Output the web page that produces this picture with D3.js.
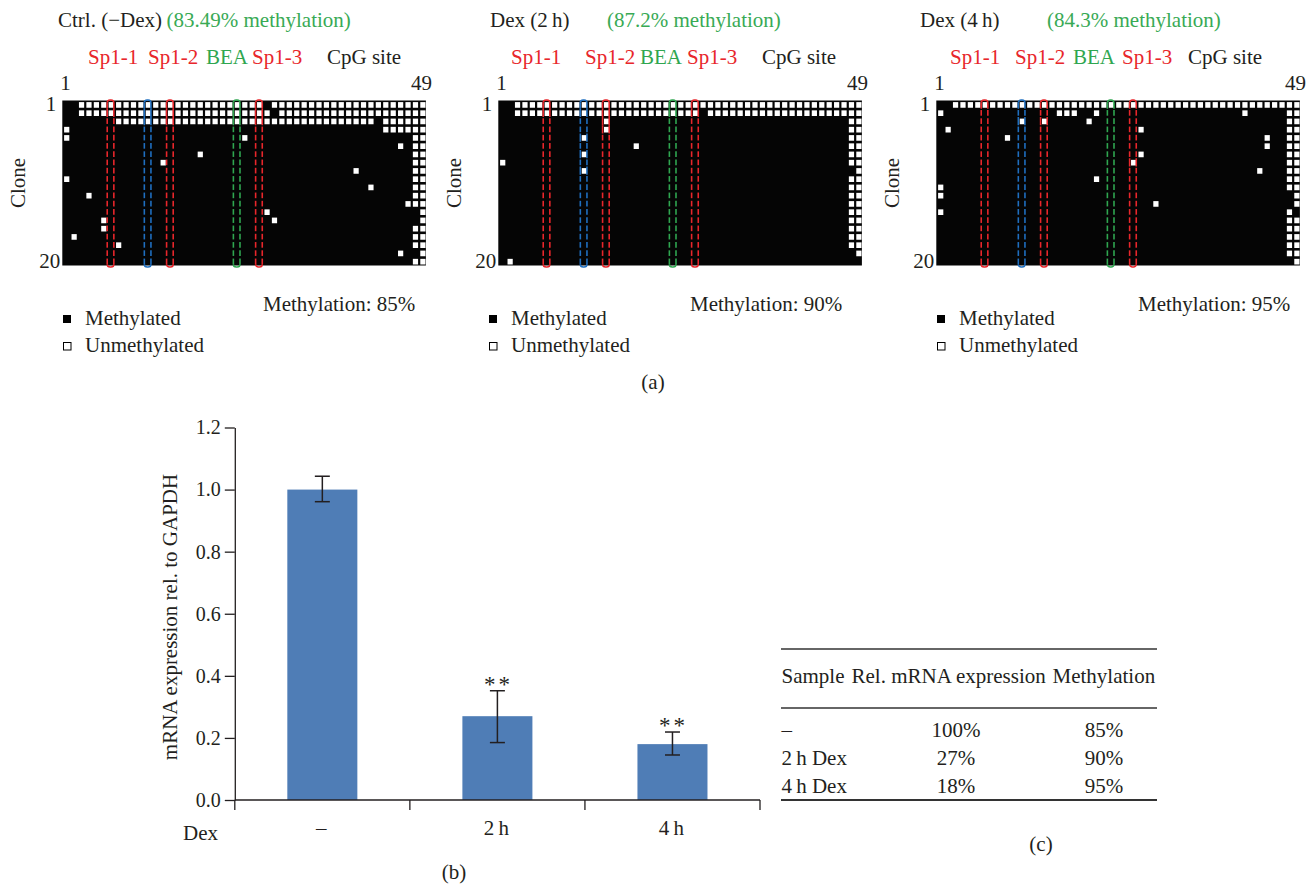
<!DOCTYPE html>
<html><head><meta charset="utf-8">
<script src="https://cdn.jsdelivr.net/npm/d3@7"></script>
<style>
body{margin:0;background:#fff}
svg{display:block}
text{font-family:"Liberation Serif","Times New Roman",serif;fill:#231f20}
</style>
</head><body>
<svg id="c" width="1315" height="886"></svg>
<script>
// ---------------- DATA ----------------
const panelTitles = ["Ctrl. (\u2212Dex)", "Dex (2\u2009h)", "Dex (4\u2009h)"];
const panelNotes = ["(83.49% methylation)", "(87.2% methylation)", "(84.3% methylation)"];
const panelMethylation = ["Methylation: 85%", "Methylation: 90%", "Methylation: 95%"];
const siteLabels = ["Sp1-1", "Sp1-2", "BEA", "Sp1-3", "CpG site"];
const siteKinds = ["sp", "sp", "bea", "sp", "cpg"];
const boxColumns = [6, 11, 14, 23, 26];          // 0-based CpG column index
const boxKinds = ["sp", "other", "sp", "bea", "sp"];
const cpgCount = 49;
const cloneCount = 20;
const legendLabels = ["Methylated", "Unmethylated"];

// unmethylated CpG columns (0-based) per clone row
const unmethCtrl = ["2-26,28-48","2-27,29-48","7-41,43-48","0,43-48","0,24,47,48","45,47,48","18,47,48",
  "13,47,48","39,47,48","0,47,48","41,47,48","3,47,48","46,47,48","27,48","5,28,48","5,47,48",
  "1,47,48","7,47,48","45,48","47,48"];
const unmeth2h = ["2-48","2-26,28-48","14,47,48","14,47,48","11,47,48","18,47,48","11,47,48",
  "0,47,48","11,48","47,48","47,48","47,48","47,48","47,48","47,48","47,48","47,48","47,48","48","1"];
const unmeth4h = ["2-48","0,16,17,18,21,41,47,48","11,14,20,47,48","1,27,47,48","9,44,47,48",
  "44,47,48","27,47,48","26,47,48","43,47,48","21,47,48","0,47,48","0,48","29,48","0,47",
  "47,48","47,48","47,48","47,48","47,48","48"];

const barCategories = ["\u2013", "2\u2009h", "4\u2009h"];
const barValues = [1.00, 0.27, 0.18];
const errLow = [0.961, 0.185, 0.145];
const errHigh = [1.043, 0.352, 0.219];
const sigMarks = ["", "**", "**"];
const yTicks = [0, 0.2, 0.4, 0.6, 0.8, 1.0, 1.2];
const yLabel = "mRNA expression rel. to GAPDH";
const xLabel = "Dex";

const tableHeader = ["Sample", "Rel. mRNA expression", "Methylation"];
const tableSamples = ["\u2013", "2\u2009h Dex", "4\u2009h Dex"];
const tableExpression = ["100%", "27%", "18%"];
const tableMethylation = ["85%", "90%", "95%"];

const panelLetters = ["(a)", "(b)", "(c)"];

// ---------------- LAYOUT ----------------
const C = {red: "#e8262b", blue: "#1f6fc0", green: "#2fa650", textGreen: "#39aa55", bar: "#4f7db6", ink: "#231f20"};
const kindColor = {sp: C.red, other: C.blue, bea: C.green, cpg: C.ink};
const FS = 21;
const svg = d3.select("#c");

function parseRow(s) {
  const out = [];
  s.split(",").forEach(p => {
    const [a, b] = p.split("-").map(Number);
    if (b === undefined) out.push(a); else for (let i = a; i <= b; i++) out.push(i);
  });
  return out;
}

const grids = [unmethCtrl, unmeth2h, unmeth4h];
const gridLeft = [62.3, 498.3, 936.3];
const gridTop = 100.5, gridW = 363.6, gridH = 165;
const titleX = [58, 490, 920], noteX = [166.5, 607, 1047];
const siteX = [[88, 148, 206, 252, 327], [511, 585, 640, 687, 762], [950, 1015, 1073, 1122, 1188]];
const legendX = [67, 493, 941];
const methX = [263, 690, 1138];

grids.forEach((rows, p) => {
  const g = svg.append("g");
  const gl = gridLeft[p];
  const xs = d3.scaleBand().domain(d3.range(cpgCount)).range([gl, gl + gridW]);
  const ys = d3.scaleBand().domain(d3.range(cloneCount)).range([gridTop, gridTop + gridH]);
  const cw = xs.bandwidth(), rh = ys.bandwidth();

  g.append("text").attr("x", titleX[p]).attr("y", 27).attr("font-size", FS).text(panelTitles[p]);
  g.append("text").attr("x", noteX[p]).attr("y", 27).attr("font-size", FS).style("fill", C.textGreen).text(panelNotes[p]);

  siteLabels.forEach((s, i) => {
    g.append("text").attr("x", siteX[p][i]).attr("y", 64).attr("font-size", FS)
      .style("fill", kindColor[siteKinds[i]]).text(s);
  });

  g.append("text").attr("x", gl - 2).attr("y", 90).attr("font-size", FS).text("1");
  g.append("text").attr("x", gl + gridW + 6).attr("y", 90).attr("font-size", FS).attr("text-anchor", "end").text(String(cpgCount));
  g.append("text").attr("x", gl - 6).attr("y", ys(0) + rh / 2 + 6).attr("font-size", FS).attr("text-anchor", "end").text("1");
  g.append("text").attr("x", gl - 2).attr("y", ys(cloneCount - 1) + rh / 2 + 7).attr("font-size", FS).attr("text-anchor", "end").text(String(cloneCount));
  g.append("text").attr("transform", `translate(${gl - 44},${gridTop + gridH / 2}) rotate(-90)`)
    .attr("font-size", FS).attr("text-anchor", "middle").attr("dominant-baseline", "central").text("Clone");

  g.append("rect").attr("x", gl).attr("y", gridTop).attr("width", gridW).attr("height", gridH).attr("fill", "#050505");

  const cells = [];
  rows.forEach((s, r) => parseRow(s).forEach(c => cells.push({r, c})));
  g.selectAll("rect.u").data(cells).enter().append("rect").attr("class", "u")
    .attr("x", d => xs(d.c) + 1.8).attr("y", d => ys(d.r) + 1.6)
    .attr("width", cw - 2.2).attr("height", rh - 2.6).attr("fill", "#fff");

  const unm = rows.map(s => new Set(parseRow(s)));
  boxColumns.forEach((col, i) => {
    const col_ = kindColor[boxKinds[i]];
    const x0 = xs(col) + 0.4, x1 = xs(col) + cw - 0.4;
    const y0 = gridTop - 0.5, y1 = gridTop + gridH + 1.5, r = 2.8;
    const bg = g.append("g").attr("stroke", col_).attr("stroke-width", 1.6).attr("fill", "none");
    bg.append("path").attr("d", `M${x0},${y0 + r}A${r},${r} 0 0 1 ${x0 + r},${y0}L${x1 - r},${y0}A${r},${r} 0 0 1 ${x1},${y0 + r}`);
    bg.append("path").attr("d", `M${x0},${y1 - r}A${r},${r} 0 0 0 ${x0 + r},${y1}L${x1 - r},${y1}A${r},${r} 0 0 0 ${x1},${y1 - r}`);
    d3.range(cloneCount).forEach(rr => {
      const white = unm[rr].has(col);
      let a = ys(rr) + (white ? 0 : 1.3), b = ys(rr) + rh - (white ? 0 : 1.3);
      if (rr === 0) a = y0 + r;
      if (rr === cloneCount - 1) b = y1 - r;
      [x0, x1].forEach(xx => bg.append("line").attr("x1", xx).attr("x2", xx).attr("y1", a).attr("y2", b));
    });
  });

  const lx = legendX[p];
  g.append("rect").attr("x", lx - 4).attr("y", 315).attr("width", 8).attr("height", 8).attr("fill", "#000");
  g.append("rect").attr("x", lx - 3.5).attr("y", 342.5).attr("width", 7.5).attr("height", 7.5).attr("fill", "#fff").attr("stroke", "#000").attr("stroke-width", 1);
  g.append("text").attr("x", lx + 18).attr("y", 325).attr("font-size", FS).text(legendLabels[0]);
  g.append("text").attr("x", lx + 18).attr("y", 352).attr("font-size", FS).text(legendLabels[1]);
  g.append("text").attr("x", methX[p]).attr("y", 311).attr("font-size", FS).text(panelMethylation[p]);
});

svg.append("text").attr("x", 653).attr("y", 389).attr("font-size", FS).attr("text-anchor", "middle").text(panelLetters[0]);

// ---------------- BAR CHART (b) ----------------
const y = d3.scaleLinear().domain([0, 1.2]).range([800, 427.5]);
const x = d3.scaleBand().domain(barCategories).range([234.8, 760]).padding(0);
const bw = x.bandwidth();
const gb = svg.append("g");

const yAxis = gb.append("g").attr("transform", "translate(234.8,0)")
  .call(d3.axisLeft(y).tickValues(yTicks).tickFormat(d3.format(".1f")).tickSize(10).tickSizeOuter(0).tickPadding(4));
yAxis.selectAll("path,line").attr("stroke", C.ink).attr("stroke-width", 1.3);
yAxis.selectAll("text").attr("font-size", 20).attr("font-family", "Liberation Serif").style("fill", C.ink);

gb.selectAll("rect.bar").data(barValues).enter().append("rect").attr("class", "bar")
  .attr("x", (d, i) => x(barCategories[i]) + bw * 0.3).attr("width", bw * 0.4)
  .attr("y", d => y(d)).attr("height", d => y(0) - y(d)).attr("fill", C.bar);

gb.append("line").attr("x1", 234.8).attr("x2", 760).attr("y1", y(0)).attr("y2", y(0)).attr("stroke", C.ink).attr("stroke-width", 1.3);
barCategories.map(c => x(c)).concat([x.range()[1]]).forEach(xx => {
  gb.append("line").attr("x1", xx).attr("x2", xx).attr("y1", y(0)).attr("y2", y(0) + 10).attr("stroke", C.ink).attr("stroke-width", 1.3);
});

barValues.forEach((v, i) => {
  const cx = x(barCategories[i]) + bw / 2;
  const eg = gb.append("g").attr("stroke", C.ink).attr("stroke-width", 1.5);
  eg.append("line").attr("x1", cx).attr("x2", cx).attr("y1", y(errLow[i])).attr("y2", y(errHigh[i]));
  [errLow[i], errHigh[i]].forEach(e => eg.append("line").attr("x1", cx - 7.5).attr("x2", cx + 7.5).attr("y1", y(e)).attr("y2", y(e)));
  if (sigMarks[i]) gb.append("text").attr("x", cx + 1).attr("y", y(errHigh[i]) + 1).attr("font-size", 23)
    .attr("text-anchor", "middle").attr("letter-spacing", 3).text(sigMarks[i]);
  gb.append("text").attr("x", cx - 1).attr("y", 835).attr("font-size", FS).attr("text-anchor", "middle").text(barCategories[i]);
});
gb.append("text").attr("x", 183).attr("y", 840).attr("font-size", FS).text(xLabel);
gb.append("text").attr("transform", "translate(170,617) rotate(-90)").attr("font-size", FS)
  .attr("text-anchor", "middle").attr("dominant-baseline", "central").text(yLabel);
gb.append("text").attr("x", 454).attr("y", 879).attr("font-size", FS).attr("text-anchor", "middle").text(panelLetters[1]);

// ---------------- TABLE (c) ----------------
const gt = svg.append("g");
const tl = 781, tr = 1157;
[[649, 1.3], [708, 1.3], [800, 1.8]].forEach(([yy, w]) =>
  gt.append("line").attr("x1", tl).attr("x2", tr).attr("y1", yy).attr("y2", yy).attr("stroke", "#333").attr("stroke-width", w));
const headX = [781.5, 851.5, 1052.5];
tableHeader.forEach((h, i) => gt.append("text").attr("x", headX[i]).attr("y", 683).attr("font-size", FS).text(h));
const rowY = [737, 765, 793];
tableSamples.forEach((s, i) => {
  gt.append("text").attr("x", 781.5).attr("y", rowY[i]).attr("font-size", FS).text(s);
  gt.append("text").attr("x", 956).attr("y", rowY[i]).attr("font-size", FS).attr("text-anchor", "middle").text(tableExpression[i]);
  gt.append("text").attr("x", 1104).attr("y", rowY[i]).attr("font-size", FS).attr("text-anchor", "middle").text(tableMethylation[i]);
});
gt.append("text").attr("x", 1041).attr("y", 851).attr("font-size", FS).attr("text-anchor", "middle").text(panelLetters[2]);
</script>
</body></html>
